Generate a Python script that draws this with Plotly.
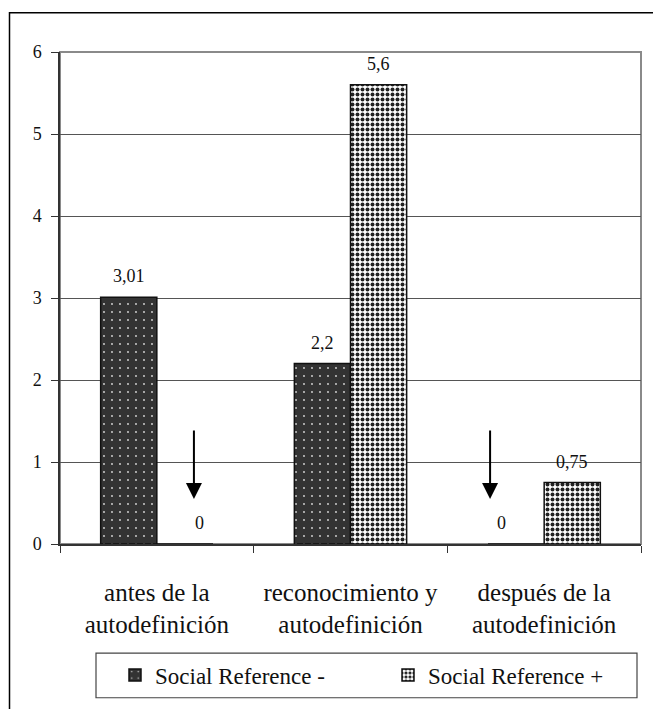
import plotly.graph_objects as go

# ---- data ----
categories = ["antes de la<br>autodefinición",
              "reconocimiento y<br>autodefinición",
              "después de la<br>autodefinición"]
series_names = ["Social Reference -", "Social Reference +"]
sr_minus = [3.01, 2.2, 0]
sr_plus = [0, 5.6, 0.75]
y_ticks = [0, 1, 2, 3, 4, 5, 6]

# ---- style / layout ----
W, H = 653, 709
ML, MR, MT, MB = 60, 12, 52, 161
PW, PH = W - ML - MR, H - MT - MB
BARGAP = 0.42
FONT = "Times New Roman, Liberation Serif, serif"
DARK = "#333333"

def px_x(px):
    return (px - ML) / PW

def px_y(py):
    return (H - MB - py) / PH

fig = go.Figure()
styles = [
    dict(color=DARK, pattern=dict(shape=".", fgcolor="#dddddd", bgcolor=DARK,
                                  size=8, solidity=0.04, fillmode="replace")),
    dict(color="white", pattern=dict(shape=".", fgcolor="#222222", bgcolor="white",
                                     size=5, solidity=0.5, fillmode="replace")),
]
legend_ids = ["legend", "legend2"]
all_vals = [sr_minus, sr_plus]
for name, vals, st, lg in zip(series_names, all_vals, styles, legend_ids):
    fig.add_trace(go.Bar(
        x=list(range(len(categories))), y=vals, name=name, legend=lg,
        marker=dict(color=st["color"], pattern=st["pattern"],
                    line=dict(color="#111111", width=1.5)),
        hoverinfo="skip",
    ))

# value labels and arrows
bar_w = (1 - BARGAP) / 2
arrow_xshift = {(1, 0): 9, (0, 2): -26}  # nudge of the hand-drawn arrows (px)
annotations = []
for j, vals in enumerate(all_vals):
    for i, v in enumerate(vals):
        xc = i + (j - 0.5) * bar_w
        label = ("%g" % v).replace(".", ",")
        outward = (1 if j == 1 else -1)
        annotations.append(dict(
            x=xc, y=v, xref="x", yref="y", text=label, showarrow=False,
            yshift=21, xshift=(15 * outward if v == 0 else 0),
            font=dict(family=FONT, size=18, color="#111111")))
        if v == 0:
            annotations.append(dict(
                x=xc, y=v, xref="x", yref="y", text="", showarrow=True,
                arrowhead=2, arrowsize=1.6, arrowwidth=2, arrowcolor="black",
                ax=0, ay=-70, yshift=45, xshift=arrow_xshift.get((j, i), 0),
                standoff=0, startstandoff=0))

shapes = [
    dict(type="rect", xref="paper", yref="paper", x0=0, x1=1, y0=0, y1=1,
         line=dict(color="#8a8a8a", width=2), layer="below"),
    dict(type="rect", xref="paper", yref="paper",
         x0=px_x(9.5), x1=px_x(W + 40), y0=px_y(H + 40), y1=px_y(12.5),
         line=dict(color="black", width=1.5)),
    dict(type="rect", xref="paper", yref="paper",
         x0=px_x(96), x1=px_x(637), y0=px_y(703), y1=px_y(658),
         line=dict(color="#444444", width=1.2)),
]

legend_common = dict(orientation="h", xanchor="left", yanchor="middle",
                     y=px_y(680), bgcolor="rgba(0,0,0,0)", borderwidth=0,
                     font=dict(family=FONT, size=23, color="#111111"))

fig.update_layout(
    width=W, height=H,
    margin=dict(l=ML, r=MR, t=MT, b=MB, pad=0),
    paper_bgcolor="white", plot_bgcolor="white",
    barmode="group", bargap=BARGAP, bargroupgap=0,
    font=dict(family=FONT, color="#111111"),
    showlegend=True,
    legend=dict(x=px_x(115), **legend_common),
    legend2=dict(x=px_x(388), **legend_common),
    annotations=annotations,
    shapes=shapes,
)
fig.update_xaxes(
    type="linear", range=[-0.5, len(categories) - 0.5],
    tickmode="array", tickvals=list(range(len(categories))), ticktext=categories,
    ticks="", showgrid=False, zeroline=False,
    showline=True, linecolor=DARK, linewidth=1.5,
    tickfont=dict(family=FONT, size=25, color="#111111"),
    ticklabelstandoff=25,
    minor=dict(tickmode="array", tickvals=[k - 0.5 for k in range(len(categories) + 1)],
               ticks="outside", ticklen=7, tickcolor=DARK, tickwidth=1.2),
)
fig.update_yaxes(
    range=[0, 6], tickmode="array", tickvals=y_ticks,
    ticks="outside", ticklen=7, tickcolor=DARK, tickwidth=1.2,
    showgrid=True, gridcolor="#555555", gridwidth=1,
    zeroline=False, showline=True, linecolor=DARK, linewidth=1.5,
    tickfont=dict(family=FONT, size=18, color="#111111"),
    ticklabelstandoff=6,
)

fig.write_html("out.html", config={"displayModeBar": False},
               post_script="document.body.style.margin='0px';document.body.style.overflow='hidden';")
